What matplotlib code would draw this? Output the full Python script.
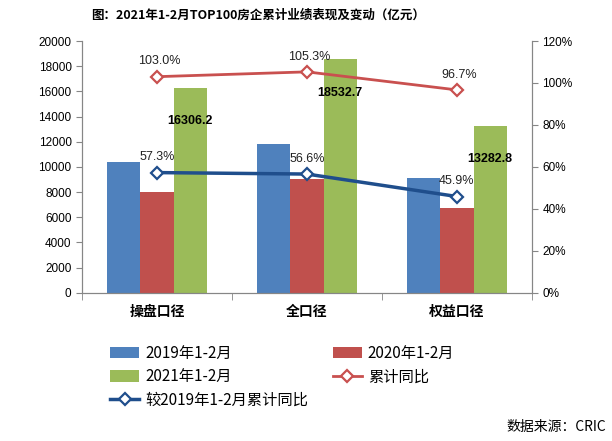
import numpy as np
import matplotlib
matplotlib.use("Agg")
import matplotlib.pyplot as plt
from matplotlib.ticker import MultipleLocator, PercentFormatter

plt.rcParams["font.family"] = ["Noto Sans CJK SC", "DejaVu Sans"]
plt.rcParams["axes.unicode_minus"] = False

# ---- data ----
categories = ["操盘口径", "全口径", "权益口径"]
sales_2019 = [10366, 11834, 9104]
sales_2020 = [8033, 9027, 6753]
sales_2021 = [16306.2, 18532.7, 13282.8]
yoy = [103.0, 105.3, 96.7]          # 累计同比 %
vs_2019 = [57.3, 56.6, 45.9]        # 较2019年1-2月累计同比 %

c_blue = "#4F81BD"
c_red = "#C0504D"
c_green = "#9BBB59"
c_line_red = "#C9504F"
c_line_blue = "#1F4E8C"
grey = "#868686"

fig = plt.figure(figsize=(6.12, 4.41), dpi=100)
ax = fig.add_axes([0.134, 0.336, 0.735, 0.571])
ax2 = ax.twinx()

x = np.arange(len(categories))
w = 0.222
b1 = ax.bar(x - w, sales_2019, w, color=c_blue, label="2019年1-2月", zorder=2)
b2 = ax.bar(x, sales_2020, w, color=c_red, label="2020年1-2月", zorder=2)
b3 = ax.bar(x + w, sales_2021, w, color=c_green, label="2021年1-2月", zorder=2)

for xi, v in zip(x + w, sales_2021):
    ax.annotate(f"{v:.1f}", (xi, v), xytext=(0, -24), textcoords="offset points",
                ha="center", va="center", fontsize=9, fontweight="bold",
                family=["Liberation Sans", "DejaVu Sans"], color="black", zorder=5)

ax.set_xlim(-0.5, 2.5)
ax.set_ylim(0, 20000)
ax.yaxis.set_major_locator(MultipleLocator(2000))
ax.set_xticks(x)
ax.set_xticklabels(categories, fontsize=10, fontweight="bold")
ax.set_xticks([-0.5, 0.5, 1.5, 2.5], minor=True)
ax.tick_params(axis="x", which="major", length=0, pad=9)
ax.tick_params(axis="x", which="minor", length=5, color=grey, direction="out")
ax.tick_params(axis="y", length=4, color=grey, labelsize=8.5)
for lab in ax.get_yticklabels():
    lab.set_family(["Liberation Sans", "DejaVu Sans"])

# lines on right axis
l1, = ax2.plot(x, np.array(yoy) / 100, color=c_line_red, lw=2, marker="D", ms=6,
               mfc="white", mec=c_line_red, mew=1.6, label="累计同比", zorder=4)
l2, = ax2.plot(x, np.array(vs_2019) / 100, color=c_line_blue, lw=2.5, marker="D", ms=6,
               mfc="white", mec=c_line_blue, mew=1.6, label="较2019年1-2月累计同比", zorder=4)
for xi, v in zip(x, yoy):
    ax2.annotate(f"{v:.1f}%", (xi, v / 100), xytext=(2, 11), textcoords="offset points",
                 ha="center", va="center", fontsize=9,
                 family=["Liberation Sans", "DejaVu Sans"], color="#222222")
for xi, v in zip(x, vs_2019):
    ax2.annotate(f"{v:.1f}%", (xi, v / 100), xytext=(0, 11), textcoords="offset points",
                 ha="center", va="center", fontsize=9,
                 family=["Liberation Sans", "DejaVu Sans"], color="#222222")

ax2.set_ylim(0, 1.2)
ax2.yaxis.set_major_locator(MultipleLocator(0.2))
ax2.yaxis.set_major_formatter(PercentFormatter(1.0, decimals=0))
ax2.tick_params(axis="y", length=4, color=grey, labelsize=8.5)
for lab in ax2.get_yticklabels():
    lab.set_family(["Liberation Sans", "DejaVu Sans"])

for a in (ax, ax2):
    a.spines["top"].set_visible(False)
    for s in ("left", "right", "bottom"):
        a.spines[s].set_color(grey)

fig.text(0.422, 0.966, "图：2021年1-2月TOP100房企累计业绩表现及变动（亿元）",
         ha="center", va="center", fontsize=9, fontweight="bold")

fig.legend([b1, b3, l2, b2, l1],
           ["2019年1-2月", "2021年1-2月", "较2019年1-2月累计同比", "2020年1-2月", "累计同比"],
           ncol=2, loc="upper left", bbox_to_anchor=(0.18, 0.218), frameon=False,
           fontsize=11, handlelength=1.9, handleheight=0.8, labelspacing=0.42,
           columnspacing=1.6, handletextpad=0.4, borderpad=0, borderaxespad=0)

fig.text(0.99, 0.032, "数据来源：CRIC", ha="right", va="center", fontsize=10)

fig.savefig("out.png", dpi=100)
